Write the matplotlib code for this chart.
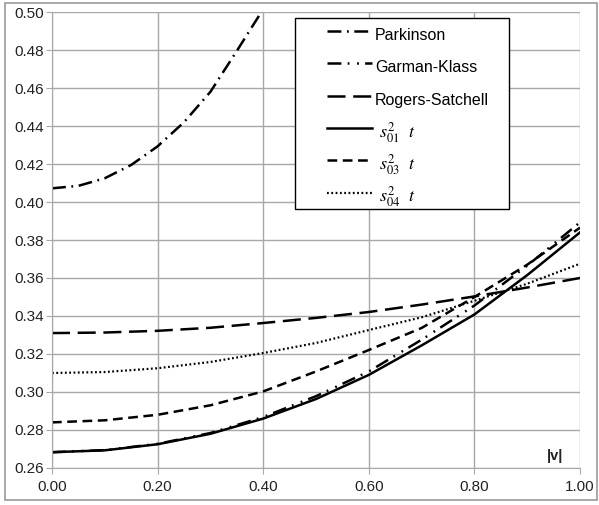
import matplotlib
matplotlib.use('Agg')
import matplotlib.pyplot as plt
from matplotlib.patches import Rectangle

plt.rcParams['font.family'] = ['Liberation Sans', 'DejaVu Sans']
plt.rcParams['mathtext.fontset'] = 'stix'
plt.rcParams['lines.scale_dashes'] = False

# data
v = [0.0, 0.1, 0.2, 0.3, 0.4, 0.5, 0.6, 0.7, 0.8, 0.9, 1.0]
v_park = [0.0, 0.05, 0.1, 0.15, 0.2, 0.25, 0.3, 0.35, 0.4]
parkinson = [0.4072, 0.4085, 0.4125, 0.4195, 0.4293, 0.4420, 0.4580, 0.4795, 0.5015]
garman_klass = [0.2683, 0.2694, 0.2727, 0.2784, 0.2868, 0.2978, 0.3108, 0.3275, 0.3455, 0.3665, 0.3893]
rogers_satchell = [0.3310, 0.3313, 0.3322, 0.3338, 0.3363, 0.3390, 0.3421, 0.3460, 0.3503, 0.3550, 0.3600]
s01 = [0.2683, 0.2693, 0.2725, 0.2780, 0.2860, 0.2963, 0.3090, 0.3245, 0.3408, 0.3615, 0.3840]
s03 = [0.2840, 0.2851, 0.2880, 0.2930, 0.3003, 0.3108, 0.3221, 0.3337, 0.3500, 0.3670, 0.3865]
s04 = [0.3100, 0.3105, 0.3125, 0.3158, 0.3205, 0.3258, 0.3326, 0.3393, 0.3480, 0.3570, 0.3675]

xticks = [0.0, 0.2, 0.4, 0.6, 0.8, 1.0]
yticks = [0.26, 0.28, 0.30, 0.32, 0.34, 0.36, 0.38, 0.40, 0.42, 0.44, 0.46, 0.48, 0.50]

fig = plt.figure(figsize=(5.99, 5.05), dpi=100)
ax = fig.add_axes([0.0868, 0.0733, 0.8815, 0.9029])

# outer frame
fig.patches.append(Rectangle((5/599, 5/505), 592/599, 497/505, transform=fig.transFigure,
                             fill=False, edgecolor='#9a9a9a', lw=1.2))

k = 'black'
ax.plot(v_park, parkinson, color=k, lw=1.8, dashes=(10, 4, 1.3, 4), label='Parkinson')
ax.plot(v, garman_klass, color=k, lw=1.8, dashes=(10, 4.5, 1.3, 5.5, 1.3, 4.5), label='Garman-Klass')
ax.plot(v, rogers_satchell, color=k, lw=1.8, dashes=(13, 5.5), label='Rogers-Satchell')
ax.plot(v, s01, color=k, lw=1.8, label=r'$\ s_{01}^{2}\ \ t$')
ax.plot(v, s03, color=k, lw=1.8, dashes=(7, 4), label=r'$\ s_{03}^{2}\ \ t$')
ax.plot(v, s04, color=k, lw=1.6, dashes=(1.3, 1.8), label=r'$\ s_{04}^{2}\ \ t$')

ax.set_xlim(0, 1)
ax.set_ylim(0.26, 0.50)
ax.set_xticks(xticks)
ax.set_yticks(yticks)
ax.set_xticklabels(['%.2f' % t for t in xticks])
ax.set_yticklabels(['%.2f' % t for t in yticks])
ax.grid(True, color='#a8a8a8', lw=1.0)
ax.set_axisbelow(True)
for s in ax.spines.values():
    s.set_visible(False)
ax.spines['left'].set_visible(True)
ax.spines['bottom'].set_visible(True)
ax.spines['left'].set_color('#a8a8a8')
ax.spines['bottom'].set_color('#a8a8a8')
ax.tick_params(axis='both', direction='out', length=4, color='#a8a8a8',
               labelsize=11, labelcolor='#222222')
ax.tick_params(axis='x', pad=5)
ax.tick_params(axis='y', pad=2)

ax.text(0.953, 0.2663, '|v|', fontsize=10.5, fontweight='bold', ha='center', va='center',
        color='#222222')

# legend box
ax.add_patch(Rectangle((0.460, 0.568), 0.4055, 0.4188, transform=ax.transAxes,
                       facecolor='white', edgecolor='black', lw=1.0, zorder=5))
leg = ax.legend(loc='upper left', bbox_to_anchor=(0.521, 0.979), borderaxespad=0,
                borderpad=0, fontsize=11.5, handlelength=2.82, handleheight=2.22,
                labelspacing=0.34, handletextpad=0.19, frameon=False)
leg.set_zorder(6)
for t in leg.get_texts()[3:]:
    t.set_fontsize(13)

fig.savefig('out.png', dpi=100)
